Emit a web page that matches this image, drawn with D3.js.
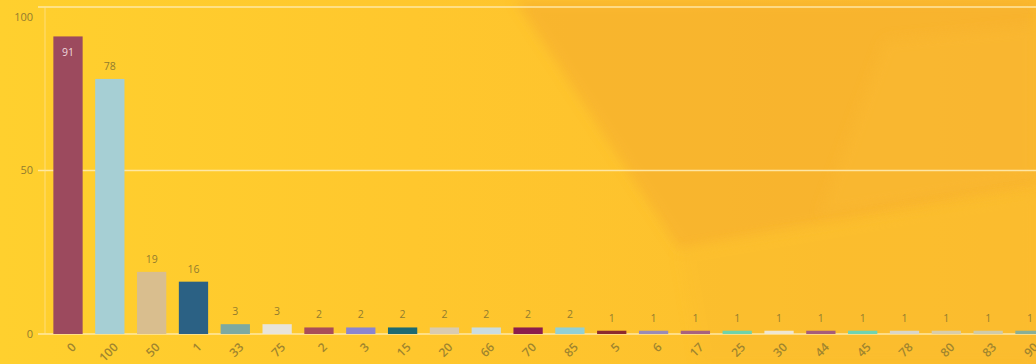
<!DOCTYPE html>
<html>
<head>
<meta charset="utf-8">
<script src="https://cdn.jsdelivr.net/npm/d3@7"></script>
<style>
  html, body { margin: 0; padding: 0; background: #FFCB2E; }
  svg { display: block; }
</style>
</head>
<body>
<svg id="chart" width="1036" height="364"></svg>
<script>
const categories = ["0","100","50","1","33","75","2","3","15","20","66","70","85","5","6","17","25","30","44","45","78","80","83","90"];
const values = [91,78,19,16,3,3,2,2,2,2,2,2,2,1,1,1,1,1,1,1,1,1,1,1];
const colors = ["#9C4A5E","#A6CFD4","#D9BE8E","#2B6184","#7DA9A1","#E8E4DA","#A94D59","#8B85CF","#1D6A72","#D9CBB0","#CADCE0","#8B1D4D","#92D0D6","#8D2A2E","#9A8BB7","#A8617E","#6FD3A9","#EFE7D2","#A65C7B","#6FD4B1","#D9D6C9","#D8CDAA","#CFCBAA","#88AF97"];
const yTicks = [0, 50, 100];

const W = 1036, H = 364;
const svg = d3.select("#chart");

// background
const defs = svg.append("defs");
const lg = defs.append("linearGradient").attr("id","bg").attr("x1","0").attr("y1","0").attr("x2","1").attr("y2","0");
lg.append("stop").attr("offset","0%").attr("stop-color","#FFD02E");
lg.append("stop").attr("offset","40%").attr("stop-color","#FFC72D");
lg.append("stop").attr("offset","100%").attr("stop-color","#FBBB2E");
svg.append("rect").attr("width",W).attr("height",H).attr("fill","url(#bg)");
const bl = defs.append("filter").attr("id","soft");
bl.append("feGaussianBlur").attr("stdDeviation", 6);
svg.append("path").attr("d","M515,0 L680,250 L1036,185 L1036,0 Z")
  .attr("fill","#F7B12E").attr("opacity",0.75).attr("filter","url(#soft)");
svg.append("path").attr("d","M885,40 L1036,25 L1036,180 L820,215 Z")
  .attr("fill","#FAB933").attr("opacity",0.6).attr("filter","url(#soft)");
svg.append("path").attr("d","M680,250 L1036,190 L1036,364 L700,364 Z")
  .attr("fill","#FBBD2E").attr("opacity",0.5).attr("filter","url(#soft)");

const x = d3.scaleBand().domain(categories).range([45, 1053]).paddingInner(0.3).paddingOuter(0.2);
const y = d3.scaleLinear().domain([0, 100]).range([334, 7]);

const font = "'Open Sans', 'DejaVu Sans', sans-serif";
const textColor = "#937C2E";

// gridlines
svg.append("g").selectAll("line").data(yTicks).join("line")
  .attr("x1", 38).attr("x2", W)
  .attr("y1", d => y(d)).attr("y2", d => y(d))
  .attr("stroke", "#FFEBB0").attr("stroke-opacity", 0.9).attr("stroke-width", 1.5);
// vertical axis line
svg.append("line").attr("x1",45).attr("x2",45).attr("y1",y(100)).attr("y2",y(0))
  .attr("stroke","#FFE39A").attr("stroke-opacity",0.7).attr("stroke-width",1);

// y tick labels
svg.append("g").selectAll("text").data(yTicks).join("text")
  .attr("x", 33).attr("y", d => Math.max(y(d), 17))
  .attr("dy", "0.35em").attr("text-anchor", "end")
  .attr("font-family", font).attr("font-size", 11).attr("fill", textColor)
  .text(d => d);

// bars
svg.append("g").selectAll("rect").data(categories).join("rect")
  .attr("x", d => x(d)).attr("width", x.bandwidth())
  .attr("y", (d,i) => y(values[i])).attr("height", (d,i) => y(0) - y(values[i]))
  .attr("fill", (d,i) => colors[i]);

// value labels
svg.append("g").selectAll("text").data(categories).join("text")
  .attr("x", d => x(d) + x.bandwidth()/2)
  .attr("y", (d,i) => values[i] > 85 ? y(values[i]) + 20 : y(values[i]) - 9)
  .attr("text-anchor", "middle")
  .attr("font-family", font).attr("font-size", 10.5)
  .attr("fill", (d,i) => values[i] > 85 ? "#F0D8DF" : textColor)
  .text((d,i) => values[i]);

// x tick labels
svg.append("g").selectAll("text").data(categories).join("text")
  .attr("transform", d => `translate(${x(d) + x.bandwidth()/2 + 6},${345}) rotate(-45)`)
  .attr("text-anchor", "end").attr("dy", "0.35em")
  .attr("font-family", font).attr("font-size", 12).attr("font-weight", 600).attr("fill", "#A0852E")
  .text(d => d);
</script>
</body>
</html>
